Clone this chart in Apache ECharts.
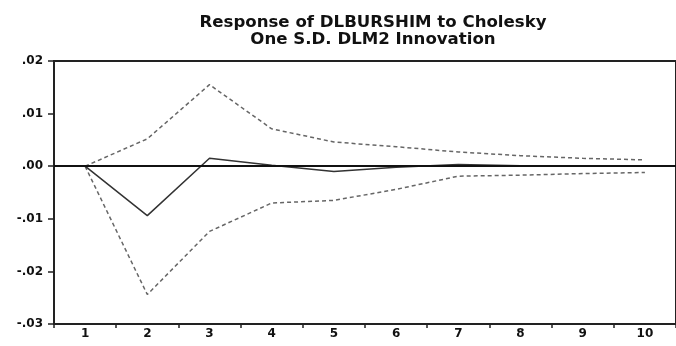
<!DOCTYPE html>
<html>
<head>
<meta charset="utf-8">
<script src="https://cdn.jsdelivr.net/npm/echarts@6/dist/echarts.min.js"></script>
<style>
html,body{margin:0;padding:0;background:#fff;}
#chart{width:676px;height:346px;}
</style>
</head>
<body>
<div id="chart"></div>
<script>
const titleLines = ["Response of DLBURSHIM to Cholesky", "One S.D. DLM2 Innovation"];
const periods = ["1","2","3","4","5","6","7","8","9","10"];
const response = [0, -0.0094, 0.0015, 0.0002, -0.0010, -0.0002, 0.0003, 0.0001, 0.0000, 0.0000];
const upperBand = [0, 0.0052, 0.0155, 0.0071, 0.0046, 0.0037, 0.0027, 0.0020, 0.0015, 0.0012];
const lowerBand = [0, -0.0244, -0.0124, -0.0070, -0.0065, -0.0044, -0.0019, -0.0017, -0.0014, -0.0012];
const yTicks = {min: -0.03, max: 0.02, step: 0.01};

const chart = echarts.init(document.getElementById('chart'), null, {renderer: 'canvas'});
const fmt = v => {
  const r = Math.round(v * 100) / 100;
  let s = Math.abs(r).toFixed(2).replace(/^0\./, '.');
  return (r < 0 ? '-' : '') + s;
};
const bandStyle = {color: '#666', width: 1.5, type: [4, 3]};
const labelFont = {fontFamily: 'DejaVu Sans', fontWeight: 'bold', fontSize: 12, color: '#111'};
chart.setOption({
  backgroundColor: '#fff',
  animation: false,
  title: {
    text: titleLines.join('\n'),
    left: 368, textAlign: 'center', top: 9,
    textStyle: {fontFamily: 'DejaVu Sans', fontWeight: 'bold', fontSize: 16.6, lineHeight: 17, color: '#111'}
  },
  grid: {left: 54, top: 61, width: 630, height: 263, show: true, borderColor: '#222', borderWidth: 2, backgroundColor: 'transparent'},
  xAxis: {
    type: 'category', data: periods, boundaryGap: true,
    axisLine: {onZero: false, lineStyle: {color: '#222', width: 2}},
    axisTick: {show: true, length: 4, lineStyle: {color: '#222', width: 1.5}},
    axisLabel: Object.assign({margin: 4}, labelFont)
  },
  yAxis: {
    type: 'value', min: yTicks.min, max: yTicks.max, interval: yTicks.step,
    axisLine: {show: true, lineStyle: {color: '#222', width: 2}},
    axisTick: {show: true, length: 6, lineStyle: {color: '#222', width: 1.5}},
    splitLine: {show: false},
    axisLabel: Object.assign({formatter: fmt, margin: 11}, labelFont)
  },
  series: [
    {type: 'line', data: upperBand, symbol: 'none', lineStyle: bandStyle, z: 2},
    {type: 'line', data: lowerBand, symbol: 'none', lineStyle: bandStyle, z: 2},
    {type: 'line', data: response, symbol: 'none', lineStyle: {color: '#333', width: 1.5}, z: 3,
      markLine: {silent: true, symbol: 'none', label: {show: false},
        lineStyle: {color: '#111', width: 2, type: 'solid'},
        data: [{yAxis: 0}]}}
  ]
});
</script>
</body>
</html>
